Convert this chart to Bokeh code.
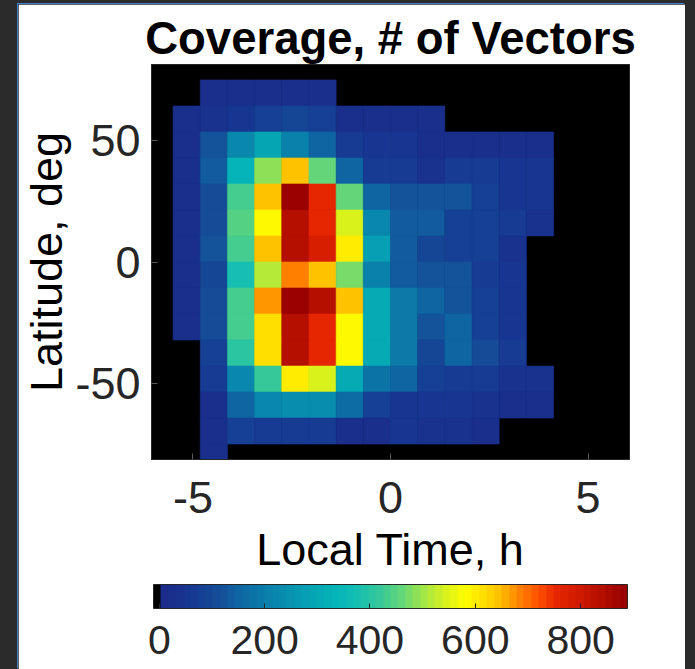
from bokeh.plotting import figure
from bokeh.models import (ColumnDataSource, LinearColorMapper, ColorBar, FixedTicker,
                          Range1d, CustomJSTickFormatter)
from bokeh.layouts import column
from bokeh.transform import transform
from bokeh.embed import file_html
from bokeh.resources import INLINE

# ---- data -------------------------------------------------------------
title_text = "Coverage, # of Vectors"
x_label = "Local Time, h"
y_label = "Latitude, deg"

# bin centres
local_time = [-5.16, -4.472, -3.784, -3.096, -2.408, -1.72, -1.032, -0.344,
              0.344, 1.032, 1.72, 2.408, 3.096, 3.784]
latitude = [69.33, 58.67, 48.0, 37.33, 26.67, 16.0, 5.33, -5.33, -16.0,
            -26.67, -37.33, -48.0, -58.67, -69.33, -80.0]

# number of vectors per bin (rows follow `latitude`, columns follow `local_time`)
counts = [
    [0, 18, 20, 20, 20, 18, 0, 0, 0, 0, 0, 0, 0, 0],
    [20, 42, 50, 80, 95, 85, 28, 25, 25, 22, 0, 0, 0, 0],
    [20, 125, 220, 290, 205, 155, 60, 58, 58, 22, 20, 20, 22, 22],
    [20, 130, 335, 485, 640, 460, 150, 62, 60, 40, 60, 60, 55, 55],
    [20, 115, 430, 645, 880, 750, 460, 150, 125, 125, 120, 85, 55, 55],
    [20, 110, 445, 580, 835, 750, 540, 220, 135, 130, 85, 75, 60, 35],
    [20, 125, 430, 640, 835, 780, 600, 280, 135, 95, 80, 80, 35, 0],
    [20, 100, 370, 510, 685, 640, 475, 205, 135, 125, 120, 65, 55, 0],
    [20, 115, 430, 665, 880, 835, 640, 300, 195, 145, 120, 80, 55, 0],
    [20, 115, 435, 620, 835, 750, 580, 300, 195, 120, 150, 85, 55, 0],
    [0, 85, 400, 620, 835, 750, 580, 300, 195, 100, 150, 115, 65, 0],
    [0, 65, 220, 415, 600, 540, 300, 175, 150, 80, 60, 60, 40, 35],
    [0, 30, 150, 220, 240, 240, 160, 80, 55, 50, 50, 40, 30, 30],
    [0, 30, 75, 70, 70, 70, 25, 30, 50, 45, 40, 30, 0, 0],
    [0, 25, 0, 0, 0, 0, 0, 0, 0, 0, 0, 0, 0, 0],
]

x_ticks = [-5, 0, 5]
y_ticks = [-50, 0, 50]
cbar_ticks = [0, 200, 400, 600, 800]
c_low, c_high = -11, 889

# ---- colour map (jet-like, first step black) --------------------------
anchors = [
    (6, "#1a2a88"), (60, "#173892"), (120, "#145098"), (150, "#0f64a2"),
    (200, "#0a7eaa"), (250, "#0894b0"), (300, "#05a8b5"), (340, "#05b6b8"),
    (380, "#18c0b0"), (420, "#38c898"), (460, "#64d67a"), (500, "#a0e648"),
    (540, "#d4f020"), (580, "#ffff00"), (610, "#ffe400"), (645, "#ffc000"),
    (685, "#ff8000"), (720, "#ff5000"), (750, "#e82800"), (790, "#d41c00"),
    (835, "#b81000"), (889, "#940000"),
]


def _rgb(h):
    return tuple(int(h[i:i + 2], 16) for i in (1, 3, 5))


def colour_at(v):
    if v <= anchors[0][0]:
        return anchors[0][1]
    for (v0, c0), (v1, c1) in zip(anchors[:-1], anchors[1:]):
        if v0 <= v <= v1:
            t = (v - v0) / (v1 - v0)
            a, b = _rgb(c0), _rgb(c1)
            return "#%02x%02x%02x" % tuple(round(a[k] + (b[k] - a[k]) * t) for k in range(3))
    return anchors[-1][1]


n_steps = 64
step = (c_high - c_low) / n_steps
palette = ["#000000"] + [colour_at(c_low + (k + 0.5) * step) for k in range(1, n_steps)]
mapper = LinearColorMapper(palette=palette, low=c_low, high=c_high)

# ---- source -----------------------------------------------------------
xs, ys, vs = [], [], []
for i, lat in enumerate(latitude):
    for j, lt in enumerate(local_time):
        v = counts[i][j]
        if v > 0:
            xs.append(lt)
            ys.append(lat)
            vs.append(v)
src = ColumnDataSource(dict(lt=xs, lat=ys, v=vs))
cell_w = local_time[1] - local_time[0]
cell_h = latitude[0] - latitude[1]

# ---- figure -----------------------------------------------------------
FONT = "Liberation Sans"
TXT = "#262626"

p = figure(width=667, height=665, output_backend="svg", toolbar_location=None,
           x_range=Range1d(-6.05, 6.05), y_range=Range1d(-81, 81),
           min_border_left=133, min_border_right=56, min_border_top=60,
           min_border_bottom=210, background_fill_color="black",
           border_fill_color="white", title=title_text)
p.styles = {"box-shadow": "-1px -1px 0px 0px #3f7fcf"}

p.rect(x="lt", y="lat", width=cell_w, height=cell_h, source=src,
       fill_color=transform("v", mapper), line_color=transform("v", mapper),
       line_width=0.6)

p.grid.visible = False
p.outline_line_color = TXT
p.outline_line_width = 1

p.title.text_font = FONT
p.title.text_font_size = "45.5px"
p.title.text_font_style = "bold"
p.title.text_color = "black"
p.title.align = "center"
p.title.standoff = 2

fmt = CustomJSTickFormatter(code="return String(tick);")
for ax, ticks, lab in ((p.xaxis[0], x_ticks, x_label), (p.yaxis[0], y_ticks, y_label)):
    ax.ticker = FixedTicker(ticks=ticks)
    ax.formatter = fmt
    ax.axis_label = lab
    ax.axis_label_text_font = FONT
    ax.axis_label_text_font_size = "45px"
    ax.axis_label_text_font_style = "normal"
    ax.axis_label_text_color = "black"
    ax.major_label_text_font = FONT
    ax.major_label_text_font_size = "45px"
    ax.major_label_text_color = TXT
    ax.major_tick_in = 6
    ax.major_tick_out = 0
    ax.major_tick_line_color = "#5a5a5a"
    ax.minor_tick_line_color = None
    ax.axis_line_color = TXT
p.xaxis.major_label_standoff = 22
p.xaxis.axis_label_standoff = 8
p.yaxis.major_label_standoff = 11
p.yaxis.axis_label_standoff = 0

cbar = ColorBar(color_mapper=mapper, orientation="horizontal", width=474, height=24,
                location="top_center",
                ticker=FixedTicker(ticks=cbar_ticks), padding=7, margin=0,
                major_label_text_font=FONT, major_label_text_font_size="41px",
                major_label_text_color=TXT, label_standoff=17,
                major_tick_in=5, major_tick_out=0, major_tick_line_color=TXT,
                minor_tick_line_color=None, bar_line_color=TXT,
                background_fill_color="white")
p.add_layout(cbar, "below")

page = column(p, styles={"background-color": "#2b2b2b",
                         "padding": "4px 10px 0px 18px"})

open("out.html", "w").write(file_html(page, INLINE))
